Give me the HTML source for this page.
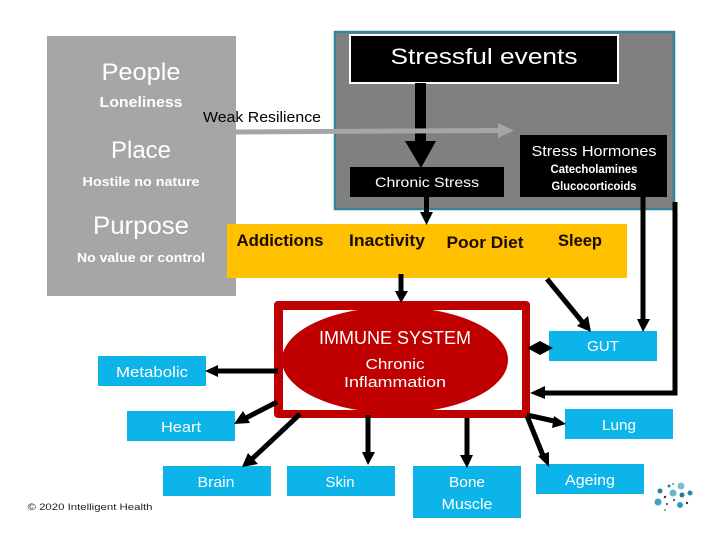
<!DOCTYPE html>
<html><head><meta charset="utf-8"><style>
html,body{margin:0;padding:0;background:#fff}
svg{display:block}
text{font-family:"Liberation Sans",sans-serif;text-anchor:middle}
.w{fill:#fff}.b{fill:#000}.k{fill:#1a0a00;font-weight:bold}
.l{stroke:#000;fill:none}.h{fill:#000}
</style></head><body>
<svg width="720" height="540" viewBox="0 0 720 540" xmlns="http://www.w3.org/2000/svg">
<rect x="47" y="36" width="189" height="260" fill="#a6a6a6"/>
<rect x="335" y="32" width="339" height="177" fill="#808080" stroke="#31859c" stroke-width="2.5"/>
<rect x="227" y="224" width="400" height="54" fill="#ffc000"/>
<rect x="350" y="35" width="268" height="48" fill="#000" stroke="#fff" stroke-width="2"/>
<rect x="415" y="83" width="11" height="60"/>
<polygon points="405,141 436,141 421,168"/>
<rect x="350" y="167" width="154" height="30"/>
<rect x="520" y="135" width="147" height="62"/>
<polygon points="236,129.500 499,128 499,133 236,134.500" fill="#a6a6a6"/>
<polygon points="498,123 514,130.500 498,138" fill="#a6a6a6"/>
<rect x="274" y="301" width="256" height="117" rx="4" fill="#c00000"/>
<rect x="283" y="310" width="239" height="100" fill="#fff"/>
<clipPath id="c"><rect x="283" y="310" width="239" height="100"/></clipPath>
<ellipse cx="395" cy="360" rx="113" ry="53" fill="#c00000" clip-path="url(#c)"/>
<g fill="#0db4ea">
<rect x="98" y="356" width="108" height="30"/>
<rect x="127" y="411" width="108" height="30"/>
<rect x="163" y="466" width="108" height="30"/>
<rect x="287" y="466" width="108" height="30"/>
<rect x="413" y="466" width="108" height="52"/>
<rect x="536" y="464" width="108" height="30"/>
<rect x="565" y="409" width="108" height="30"/>
<rect x="549" y="331" width="108" height="30"/>
</g>
<g class="l" stroke-width="5">
<path d="M426.500 197V213"/>
<path d="M401 274V292"/>
<path d="M643 197V320"/>
<path d="M675 202V393H544" />
<path d="M278 371H217"/>
<path d="M277 402L246 418"/>
<path d="M300 414L252 459"/>
<path d="M368 415V454"/>
<path d="M467 418V456"/>
<path d="M527 416L544 458"/>
<path d="M527 415L554 421"/>
<path d="M547 279L584 324"/>
<path d="M535 348H545"/>
</g>
<g>
<polygon points="420,212 433,212 426.500,225"/>
<polygon points="395,291 408,291 401,303"/>
<polygon points="637,319 650,319 643,332"/>
<polygon points="545,386 545,399 530,393"/>
<polygon points="205,371 218,365 218,377"/>
<polygon points="234,424 243,411 250,423"/>
<polygon points="242,467 248,453 258,464"/>
<polygon points="362,452 375,452 368,465"/>
<polygon points="460,455 473,455 467,468"/>
<polygon points="538,456 549,452 549,467"/>
<polygon points="566,424 552,428 554,416"/>
<polygon points="591,332 577,326 588,316"/>
<polygon points="527,348 540,341 553,348 540,355"/>
</g>
<text class="w" x="484" y="64" font-size="22" textLength="187" lengthAdjust="spacingAndGlyphs">Stressful events</text>
<text class="w" x="427" y="187" font-size="14" textLength="104" lengthAdjust="spacingAndGlyphs">Chronic Stress</text>
<text class="w" x="594" y="156" font-size="15" textLength="125" lengthAdjust="spacingAndGlyphs">Stress Hormones</text>
<text class="w" x="594" y="173" font-size="12" font-weight="bold" textLength="87" lengthAdjust="spacingAndGlyphs">Catecholamines</text>
<text class="w" x="594" y="190" font-size="12" font-weight="bold" textLength="85" lengthAdjust="spacingAndGlyphs">Glucocorticoids</text>
<text class="w" x="141" y="80" font-size="24" textLength="79" lengthAdjust="spacingAndGlyphs">People</text>
<text class="w" x="141" y="107" font-size="15" font-weight="bold" textLength="83" lengthAdjust="spacingAndGlyphs">Loneliness</text>
<text class="w" x="141" y="158" font-size="24" textLength="60" lengthAdjust="spacingAndGlyphs">Place</text>
<text class="w" x="141" y="186" font-size="13" font-weight="bold" textLength="117" lengthAdjust="spacingAndGlyphs">Hostile no nature</text>
<text class="w" x="141" y="234" font-size="25" textLength="96" lengthAdjust="spacingAndGlyphs">Purpose</text>
<text class="w" x="141" y="262" font-size="13" font-weight="bold" textLength="128" lengthAdjust="spacingAndGlyphs">No value or control</text>
<text class="b" x="262" y="122" font-size="15" textLength="118" lengthAdjust="spacingAndGlyphs">Weak Resilience</text>
<text class="k" x="280" y="246" font-size="17" textLength="87" lengthAdjust="spacingAndGlyphs">Addictions</text>
<text class="k" x="387" y="246" font-size="17" textLength="76" lengthAdjust="spacingAndGlyphs">Inactivity</text>
<text class="k" x="485" y="248" font-size="17" textLength="77" lengthAdjust="spacingAndGlyphs">Poor Diet</text>
<text class="k" x="580" y="246" font-size="17" textLength="44" lengthAdjust="spacingAndGlyphs">Sleep</text>
<text class="w" x="395" y="344" font-size="18" textLength="152" lengthAdjust="spacingAndGlyphs">IMMUNE SYSTEM</text>
<text class="w" x="395" y="369" font-size="15" textLength="59" lengthAdjust="spacingAndGlyphs">Chronic</text>
<text class="w" x="395" y="387" font-size="15" textLength="102" lengthAdjust="spacingAndGlyphs">Inflammation</text>
<g class="w" font-size="15">
<text class="w" x="152" y="377" textLength="72" lengthAdjust="spacingAndGlyphs">Metabolic</text>
<text class="w" x="181" y="432" textLength="40" lengthAdjust="spacingAndGlyphs">Heart</text>
<text class="w" x="216" y="487" textLength="37" lengthAdjust="spacingAndGlyphs">Brain</text>
<text class="w" x="340" y="487" textLength="29" lengthAdjust="spacingAndGlyphs">Skin</text>
<text class="w" x="467" y="487" textLength="36" lengthAdjust="spacingAndGlyphs">Bone</text>
<text class="w" x="467" y="509" textLength="51" lengthAdjust="spacingAndGlyphs">Muscle</text>
<text class="w" x="590" y="485" textLength="50" lengthAdjust="spacingAndGlyphs">Ageing</text>
<text class="w" x="619" y="430" textLength="34" lengthAdjust="spacingAndGlyphs">Lung</text>
<text class="w" x="603" y="351" textLength="32" lengthAdjust="spacingAndGlyphs">GUT</text>
</g>
<text x="90" y="510" font-size="9.500" fill="#222" textLength="125" lengthAdjust="spacingAndGlyphs">© 2020 Intelligent Health</text>
<g>
<circle cx="681" cy="486" r="3.500" fill="#7cc0d4"/>
<circle cx="673" cy="493" r="3.500" fill="#6bb5cc"/>
<circle cx="660" cy="491" r="2.500" fill="#2a7fa5"/>
<circle cx="658" cy="502" r="3.500" fill="#3fa3c0"/>
<circle cx="682" cy="495" r="2.500" fill="#1f7da3"/>
<circle cx="690" cy="493" r="2.500" fill="#2a85a8"/>
<circle cx="680" cy="505" r="3" fill="#2a9ac0"/>
<circle cx="669" cy="486" r="1.500" fill="#2a7fa5"/>
<circle cx="665" cy="497" r="1.200" fill="#333"/>
<circle cx="687" cy="503" r="1.200" fill="#333"/>
<circle cx="674" cy="500" r="1.200" fill="#1f7da3"/>
<circle cx="667" cy="504" r="1" fill="#333"/>
<circle cx="665" cy="510" r="0.800" fill="#333"/>
<circle cx="673" cy="484" r="0.800" fill="#333"/>
</g>
</svg>
</body></html>
